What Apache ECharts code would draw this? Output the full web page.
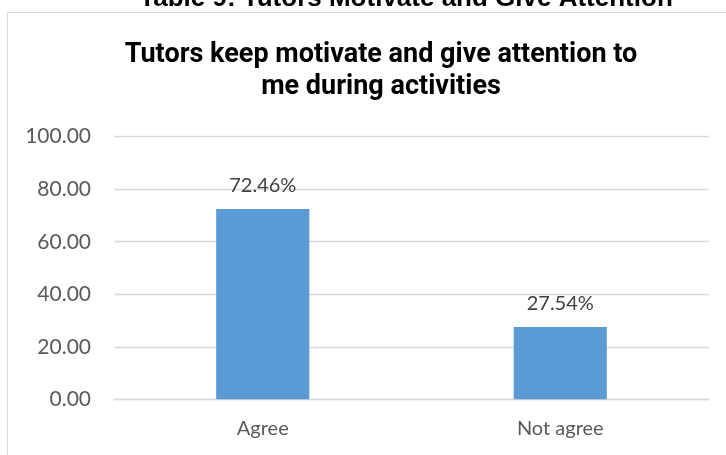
<!DOCTYPE html>
<html>
<head>
<meta charset="utf-8">
<script src="https://cdn.jsdelivr.net/npm/echarts@6/dist/echarts.min.js"></script>
<style>
  html, body { margin: 0; padding: 0; background: #ffffff; }
  #chart { width: 726px; height: 455px; }
</style>
</head>
<body>
<div id="chart"></div>
<script>
// Survey responses (percent of respondents)
const categories = ['Agree', 'Not agree'];
const values = [72.46, 27.54];
const yTicks = [0, 20, 40, 60, 80, 100];

const headingText = 'Table 9: Tutors Motivate and Give Attention';
const chartTitle = 'Tutors keep motivate and give attention to\nme during activities';

const bodyFont = 'Lato';
const titleFont = 'Roboto';
const chart = echarts.init(document.getElementById('chart'), null, { renderer: 'canvas' });

chart.setOption({
  animation: false,
  backgroundColor: '#ffffff',
  title: [
    {
      text: headingText,
      left: 401,
      textAlign: 'center',
      top: -19,
      textStyle: { fontFamily: 'Liberation Sans', fontWeight: 'bold', fontSize: 26, color: '#000000' }
    },
    {
      text: chartTitle,
      left: 376,
      textAlign: 'center',
      top: 34,
      textStyle: { fontFamily: titleFont, fontWeight: 'bold', fontSize: 27, lineHeight: 32, color: '#000000' }
    }
  ],
  graphic: [
    {
      type: 'rect',
      silent: true,
      shape: { x: 7.5, y: 12.5, width: 900, height: 600 },
      style: { fill: 'none', stroke: '#d9d9d9', lineWidth: 1 }
    }
  ],
  grid: { left: 114, right: 17, top: 136.7, bottom: 55.7, containLabel: false },
  xAxis: {
    type: 'category',
    data: categories,
    axisLine: { show: true, lineStyle: { color: '#d9d9d9', width: 1.3 } },
    axisTick: { show: false },
    axisLabel: { margin: 19, fontFamily: bodyFont, fontSize: 20, color: '#595959' }
  },
  yAxis: {
    type: 'value',
    min: yTicks[0],
    max: yTicks[yTicks.length - 1],
    interval: yTicks[1] - yTicks[0],
    axisLine: { show: false },
    axisTick: { show: false },
    splitLine: { lineStyle: { color: '#d9d9d9', width: 1.3 } },
    axisLabel: {
      margin: 23,
      fontFamily: bodyFont,
      fontSize: 21,
      color: '#595959',
      formatter: v => v.toFixed(2)
    }
  },
  series: [
    {
      type: 'bar',
      data: values,
      barWidth: '31.3%',
      itemStyle: { color: '#5b9bd5' },
      label: {
        show: true,
        position: 'top',
        distance: 13,
        fontFamily: bodyFont,
        fontSize: 20,
        color: '#404040',
        formatter: p => p.value.toFixed(2) + '%'
      }
    }
  ]
});
</script>
</body>
</html>
